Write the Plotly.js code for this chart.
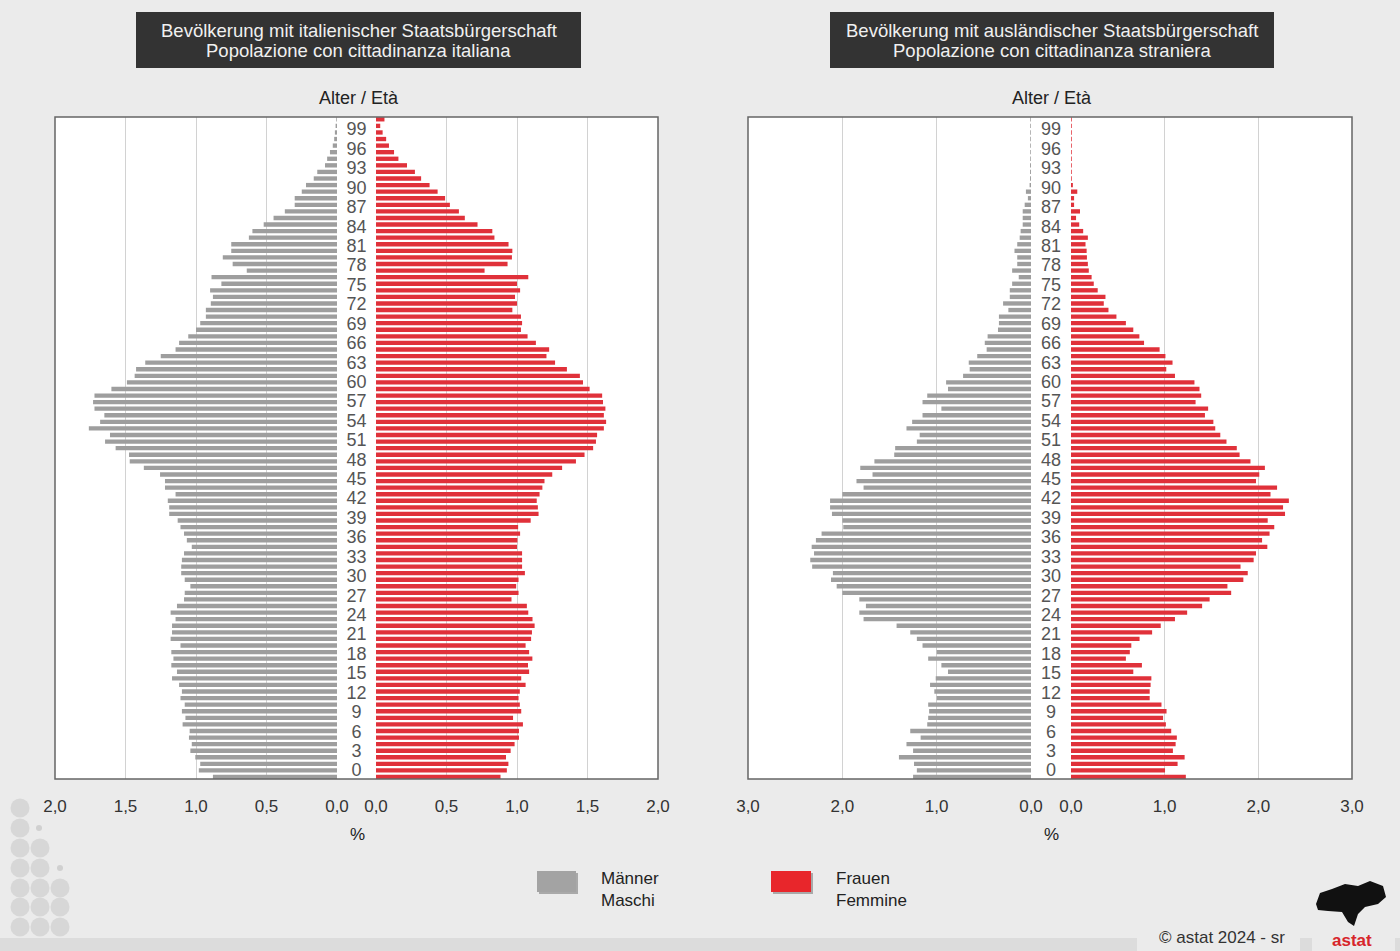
<!DOCTYPE html>
<html><head><meta charset="utf-8">
<script src="https://cdn.plot.ly/plotly-3.0.1.min.js"></script>
<style>html,body{margin:0;padding:0;background:#ebebeb;}#chart{width:1400px;height:951px;}</style>
</head><body><div id="chart"></div>
<script>
// ---------------- DATA ----------------
const ages = [0,1,2,3,4,5,6,7,8,9,10,11,12,13,14,15,16,17,18,19,20,21,22,23,24,25,26,27,28,29,30,31,32,33,34,35,36,37,38,39,40,41,42,43,44,45,46,47,48,49,50,51,52,53,54,55,56,57,58,59,60,61,62,63,64,65,66,67,68,69,70,71,72,73,74,75,76,77,78,79,80,81,82,83,84,85,86,87,88,89,90,91,92,93,94,95,96,97,98,99,100];

// Population with Italian citizenship, % (age 0 .. 100)
const italianMale = [0.88,0.98,0.97,1.005,1.04,1.03,1.05,1.045,1.095,1.075,1.10,1.08,1.11,1.10,1.12,1.17,1.135,1.175,1.16,1.175,1.11,1.18,1.17,1.17,1.145,1.18,1.135,1.085,1.08,1.04,1.08,1.105,1.105,1.10,1.085,1.03,1.065,1.085,1.11,1.13,1.19,1.19,1.20,1.145,1.22,1.22,1.255,1.37,1.47,1.475,1.57,1.645,1.61,1.76,1.68,1.65,1.72,1.73,1.72,1.60,1.49,1.435,1.425,1.36,1.25,1.145,1.12,1.055,1.00,0.97,0.93,0.93,0.895,0.88,0.90,0.82,0.89,0.64,0.74,0.81,0.75,0.75,0.625,0.60,0.52,0.45,0.37,0.30,0.30,0.25,0.22,0.165,0.14,0.085,0.07,0.05,0.03,0.02,0.015,0.01,0.005];
const italianFemale = [0.883,0.928,0.939,0.922,0.955,0.983,1.014,1.014,1.042,0.972,1.03,1.02,1.011,1.02,1.061,1.03,1.086,1.078,1.109,1.086,1.061,1.10,1.106,1.125,1.11,1.08,1.07,0.961,1.011,0.994,1.011,1.056,1.036,1.036,1.036,1.00,1.003,1.022,1.008,1.097,1.153,1.148,1.14,1.16,1.18,1.195,1.25,1.32,1.418,1.479,1.54,1.56,1.568,1.616,1.632,1.616,1.627,1.61,1.604,1.515,1.468,1.446,1.354,1.27,1.209,1.228,1.134,1.075,1.028,1.036,1.028,0.967,1.00,0.986,1.022,1.00,1.08,0.77,0.933,0.964,0.967,0.94,0.84,0.825,0.72,0.63,0.588,0.524,0.49,0.437,0.38,0.32,0.276,0.22,0.159,0.128,0.092,0.072,0.047,0.03,0.06];

// Population with foreign citizenship, % (age 0 .. 100)
const foreignMale = [1.25,1.21,1.24,1.40,1.25,1.32,1.17,1.28,1.10,1.09,1.08,1.09,1.00,1.025,1.07,1.01,0.88,0.95,1.09,1.00,1.15,1.21,1.28,1.425,1.775,1.82,1.75,1.82,2.00,2.06,2.12,2.10,2.32,2.34,2.30,2.325,2.28,2.22,1.99,2.00,2.11,2.13,2.13,2.00,1.775,1.85,1.68,1.81,1.66,1.45,1.44,1.21,1.18,1.32,1.26,1.15,0.95,1.15,1.10,0.88,0.90,0.72,0.65,0.66,0.57,0.47,0.49,0.46,0.35,0.34,0.34,0.24,0.296,0.225,0.225,0.20,0.13,0.20,0.146,0.146,0.175,0.146,0.12,0.11,0.088,0.088,0.088,0.067,0.033,0.054,0.015,0.01,0.01,0.01,0.008,0.008,0.008,0.008,0.008,0.008,0.008];
const foreignFemale = [1.226,1.004,1.138,1.213,1.088,1.117,1.13,1.07,1.013,0.983,1.02,0.966,0.84,0.84,0.85,0.858,0.665,0.757,0.586,0.628,0.644,0.732,0.866,0.958,1.11,1.24,1.40,1.48,1.71,1.67,1.84,1.887,1.81,1.95,1.975,2.096,2.04,2.12,2.17,2.10,2.285,2.264,2.326,2.13,2.20,1.975,2.01,2.07,1.916,1.80,1.77,1.66,1.594,1.54,1.52,1.43,1.464,1.33,1.39,1.372,1.318,1.11,1.017,1.084,1.008,0.946,0.78,0.73,0.665,0.586,0.485,0.40,0.35,0.368,0.285,0.243,0.22,0.19,0.18,0.17,0.167,0.155,0.18,0.13,0.088,0.054,0.096,0.033,0.033,0.067,0.02,0.008,0.008,0.008,0.008,0.008,0.008,0.008,0.008,0.008,0.008];

// Age labels shown in the centre column
const labelAges = [0,3,6,9,12,15,18,21,24,27,30,33,36,39,42,45,48,51,54,57,60,63,66,69,72,75,78,81,84,87,90,93,96,99];

// Tick labels
const ticksItaly = [0,0.5,1,1.5,2];
const ticksItalyText = ['0,0','0,5','1,0','1,5','2,0'];
const gridItaly = [0.5,1,1.5];
const ticksForeign = [0,1,2,3];
const ticksForeignText = ['0,0','1,0','2,0','3,0'];
const gridForeign = [1,2];

const titleItaly = ['Bevölkerung mit italienischer Staatsbürgerschaft','Popolazione con cittadinanza italiana'];
const titleForeign = ['Bevölkerung mit ausländischer Staatsbürgerschaft','Popolazione con cittadinanza straniera'];
const legendMale = 'Männer<br>Maschi';
const legendFemale = 'Frauen<br>Femmine';

// ---------------- STYLE / LAYOUT ----------------
const W = 1400, H = 951;
const fx = x => x / W;
const fy = y => 1 - y / H;
const FONT = 'Liberation Sans, Arial, Helvetica, sans-serif';
const GRAY = '#9e9e9e';
const RED = '#e0313a';
const BG = '#ebebeb';
const GRID = '#d2d2d2';

function xAxis(domain, range, tv, tt, grid) {
  return {
    domain: domain, range: range, anchor: 'y',
    tickmode: 'array', tickvals: tv, ticktext: tt,
    showgrid: false, zeroline: false, showline: false,
    ticks: 'outside', ticklen: 12, tickcolor: 'rgba(0,0,0,0)',
    tickfont: {family: FONT, size: 17, color: '#333'},
    minor: {tickmode: 'array', tickvals: grid, showgrid: true, gridcolor: GRID, gridwidth: 1, ticks: ''},
    fixedrange: true
  };
}

const barBase = {type: 'bar', orientation: 'h', y: ages, yaxis: 'y', width: 0.66, hoverinfo: 'skip', showlegend: false};
const traces = [
  Object.assign({}, barBase, {x: italianMale, xaxis: 'x', marker: {color: GRAY}}),
  Object.assign({}, barBase, {x: italianFemale, xaxis: 'x2', marker: {color: RED}}),
  Object.assign({}, barBase, {x: foreignMale, xaxis: 'x3', marker: {color: GRAY}}),
  Object.assign({}, barBase, {x: foreignFemale, xaxis: 'x4', marker: {color: RED}}),
  {type: 'scatter', mode: 'text', x: labelAges.map(() => 0), y: labelAges, text: labelAges.map(String),
   xaxis: 'x5', yaxis: 'y2', textposition: 'middle center', cliponaxis: false, hoverinfo: 'skip', showlegend: false,
   textfont: {family: FONT, size: 18, color: '#555'}},
  {type: 'scatter', mode: 'text', x: labelAges.map(() => 0), y: labelAges, text: labelAges.map(String),
   xaxis: 'x6', yaxis: 'y2', textposition: 'middle center', cliponaxis: false, hoverinfo: 'skip', showlegend: false,
   textfont: {family: FONT, size: 18, color: '#555'}}
];

const shapes = [];
const ann = [];
function rect(x0, y0, x1, y1, fill, line, layer) {
  shapes.push({type: 'rect', xref: 'paper', yref: 'paper', x0: fx(x0), x1: fx(x1), y0: fy(y1), y1: fy(y0),
    fillcolor: fill, line: line || {width: 0}, layer: layer || 'below'});
}
function circ(cx, cy, r, fill) {
  shapes.push({type: 'circle', xref: 'paper', yref: 'paper', x0: fx(cx - r), x1: fx(cx + r), y0: fy(cy + r), y1: fy(cy - r),
    fillcolor: fill, line: {width: 0}, layer: 'below'});
}
function text(x, y, t, opts) {
  ann.push(Object.assign({xref: 'paper', yref: 'paper', x: fx(x), y: fy(y), text: t, showarrow: false,
    xanchor: 'center', yanchor: 'middle', font: {family: FONT, size: 17, color: '#222'}}, opts || {}));
}

// plot boxes
rect(55, 117, 658, 779, '#ffffff');
rect(748, 117, 1352, 779, '#ffffff');
rect(55, 117, 658, 779, 'rgba(0,0,0,0)', {color: '#666', width: 1.5}, 'above');
rect(748, 117, 1352, 779, 'rgba(0,0,0,0)', {color: '#666', width: 1.5}, 'above');

// title boxes
rect(136, 12, 581, 68, '#333333');
rect(830, 12, 1274, 68, '#333333');
const TF = {family: FONT, size: 18.5, color: '#f0f0f0'};
text(358.5, 30, titleItaly[0], {font: TF});
text(358.5, 50, titleItaly[1], {font: TF});
text(1052, 30, titleForeign[0], {font: TF});
text(1052, 50, titleForeign[1], {font: TF});

// axis captions
text(359, 98, 'Alter / Età', {font: {family: FONT, size: 18, color: '#222'}});
text(1052, 98, 'Alter / Età', {font: {family: FONT, size: 18, color: '#222'}});
text(357, 834, '%');
text(1051, 834, '%');

// legend
rect(539, 873, 578, 894, 'rgba(0,0,0,0.28)');
rect(537, 871, 576, 892, '#a3a3a3');
rect(773, 873, 813, 894, 'rgba(0,0,0,0.28)');
rect(771, 871, 811, 892, '#e8262b');
text(599, 889, legendMale, {xanchor: 'left', align: 'left'});
text(834, 889, legendFemale, {xanchor: 'left', align: 'left'});

// decorative dots bottom left
const DOT = '#d7d7d7';
[[20,808],[20,828],[20,848],[40,848],[20,868],[40,868],[20,888],[40,888],[60,888],[20,907],[40,907],[60,907],[20,927],[40,927],[60,927]]
  .forEach(p => circ(p[0], p[1], 9.5, DOT));
circ(39, 828, 3, '#d0d0d0');
circ(60, 868, 3, '#d0d0d0');

// bottom band + copyright
rect(0, 938, 1400, 951, '#dcdcdc');
rect(1137, 926, 1300, 951, BG);
rect(1312, 926, 1395, 951, BG);
text(1222, 937, '© astat 2024 - sr', {font: {family: FONT, size: 17, color: '#333'}});

// logo (approximate)
shapes.push({type: 'path', xref: 'paper', yref: 'paper', layer: 'below', fillcolor: '#111', line: {width: 0},
  path: 'M ' + [[1316,904],[1320,893],[1332,889],[1345,884],[1358,886],[1370,881],[1383,886],[1386,897],[1378,904],[1365,907],[1358,914],[1354,926],[1348,922],[1342,912],[1328,911],[1318,910]]
    .map(p => fx(p[0]) + ',' + fy(p[1])).join(' L ') + ' Z'});
text(1352, 940, 'astat', {font: {family: FONT, size: 17, color: '#d7262b', weight: 'bold'}});

const layout = {
  width: W, height: H,
  margin: {l: 0, r: 0, t: 0, b: 0, pad: 0},
  paper_bgcolor: BG, plot_bgcolor: 'rgba(0,0,0,0)',
  barmode: 'overlay', showlegend: false,
  font: {family: FONT},
  xaxis: xAxis([fx(55), fx(337)], [2, 0], ticksItaly, ticksItalyText, gridItaly),
  xaxis2: xAxis([fx(376), fx(658)], [0, 2], ticksItaly, ticksItalyText, gridItaly),
  xaxis3: xAxis([fx(748), fx(1031)], [3, 0], ticksForeign, ticksForeignText, gridForeign),
  xaxis4: xAxis([fx(1071), fx(1352)], [0, 3], ticksForeign, ticksForeignText, gridForeign),
  xaxis5: {domain: [fx(337), fx(376)], range: [-1, 1], anchor: 'y2', visible: false, fixedrange: true},
  xaxis6: {domain: [fx(1031), fx(1071)], range: [-1, 1], anchor: 'y2', visible: false, fixedrange: true},
  yaxis: {domain: [fy(779), fy(117)], range: [-0.3, 100.35], anchor: 'x', visible: false, fixedrange: true},
  yaxis2: {domain: [fy(779), fy(117)], range: [-1.09, 101.15], anchor: 'x5', visible: false, fixedrange: true},
  shapes: shapes,
  annotations: ann
};

Plotly.newPlot('chart', traces, layout, {displayModeBar: false, staticPlot: true});
</script>
</body></html>
